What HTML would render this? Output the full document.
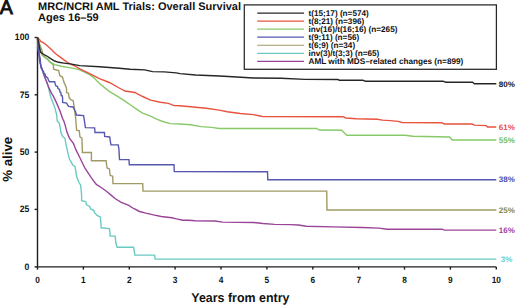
<!DOCTYPE html>
<html><head><meta charset="utf-8"><style>
html,body{margin:0;padding:0;background:#fff;}
body{width:520px;height:305px;overflow:hidden;}
svg{display:block;}
text{font-family:"Liberation Sans",sans-serif;font-weight:bold;fill:#111;text-rendering:geometricPrecision;}
.tk{font-size:8.3px;}
.yt{font-size:8.6px;}
.el{font-size:8px;}
.lg{font-size:8.2px;}
.ti{font-size:11px;}
.xl{font-size:12.9px;}
.yl{font-size:13.3px;}
.A{font-size:19.6px;font-weight:normal;stroke:#111;stroke-width:0.9px;}
</style></head><body>
<svg width="520" height="305" viewBox="0 0 520 305">
<path d="M37.5,37.5 V266.9 H496.3" fill="none" stroke="#1e1e1e" stroke-width="1.4"/>
<line x1="34.6" y1="37.5" x2="37.5" y2="37.5" stroke="#1e1e1e" stroke-width="1.4"/>
<text transform="translate(29.2,40.2) scale(1,1.08)" class="yt" text-anchor="end">100</text>
<line x1="34.6" y1="94.8" x2="37.5" y2="94.8" stroke="#1e1e1e" stroke-width="1.4"/>
<text transform="translate(29.2,97.5) scale(1,1.08)" class="yt" text-anchor="end">75</text>
<line x1="34.6" y1="152.1" x2="37.5" y2="152.1" stroke="#1e1e1e" stroke-width="1.4"/>
<text transform="translate(29.2,154.8) scale(1,1.08)" class="yt" text-anchor="end">50</text>
<line x1="34.6" y1="209.4" x2="37.5" y2="209.4" stroke="#1e1e1e" stroke-width="1.4"/>
<text transform="translate(29.2,212.1) scale(1,1.08)" class="yt" text-anchor="end">25</text>
<line x1="34.6" y1="266.9" x2="37.5" y2="266.9" stroke="#1e1e1e" stroke-width="1.4"/>
<text transform="translate(29.2,269.6) scale(1,1.08)" class="yt" text-anchor="end">0</text>
<line x1="37.5" y1="266.9" x2="37.5" y2="269.6" stroke="#1e1e1e" stroke-width="1.4"/>
<text transform="translate(37.5,283) scale(1,1.1)" class="tk" text-anchor="middle">0</text>
<line x1="83.4" y1="266.9" x2="83.4" y2="269.6" stroke="#1e1e1e" stroke-width="1.4"/>
<text transform="translate(83.4,283) scale(1,1.1)" class="tk" text-anchor="middle">1</text>
<line x1="129.3" y1="266.9" x2="129.3" y2="269.6" stroke="#1e1e1e" stroke-width="1.4"/>
<text transform="translate(129.3,283) scale(1,1.1)" class="tk" text-anchor="middle">2</text>
<line x1="175.1" y1="266.9" x2="175.1" y2="269.6" stroke="#1e1e1e" stroke-width="1.4"/>
<text transform="translate(175.1,283) scale(1,1.1)" class="tk" text-anchor="middle">3</text>
<line x1="221.0" y1="266.9" x2="221.0" y2="269.6" stroke="#1e1e1e" stroke-width="1.4"/>
<text transform="translate(221.0,283) scale(1,1.1)" class="tk" text-anchor="middle">4</text>
<line x1="266.9" y1="266.9" x2="266.9" y2="269.6" stroke="#1e1e1e" stroke-width="1.4"/>
<text transform="translate(266.9,283) scale(1,1.1)" class="tk" text-anchor="middle">5</text>
<line x1="312.8" y1="266.9" x2="312.8" y2="269.6" stroke="#1e1e1e" stroke-width="1.4"/>
<text transform="translate(312.8,283) scale(1,1.1)" class="tk" text-anchor="middle">6</text>
<line x1="358.7" y1="266.9" x2="358.7" y2="269.6" stroke="#1e1e1e" stroke-width="1.4"/>
<text transform="translate(358.7,283) scale(1,1.1)" class="tk" text-anchor="middle">7</text>
<line x1="404.5" y1="266.9" x2="404.5" y2="269.6" stroke="#1e1e1e" stroke-width="1.4"/>
<text transform="translate(404.5,283) scale(1,1.1)" class="tk" text-anchor="middle">8</text>
<line x1="450.4" y1="266.9" x2="450.4" y2="269.6" stroke="#1e1e1e" stroke-width="1.4"/>
<text transform="translate(450.4,283) scale(1,1.1)" class="tk" text-anchor="middle">9</text>
<line x1="496.3" y1="266.9" x2="496.3" y2="269.6" stroke="#1e1e1e" stroke-width="1.4"/>
<text transform="translate(496.3,283) scale(1,1.1)" class="tk" text-anchor="middle">10</text>
<polyline points="37.5,37.5 38.3,48.0 39.0,56.0 39.8,62.0 41.6,67.9 44.2,75.7 46.8,82.3 48.6,88.0 49.4,91.5 50.1,95.0 52.0,100.2 54.0,105.5 55.3,109.4 56.6,114.7 57.3,121.2 59.3,123.2 59.9,126.5 60.5,129.0 60.9,132.9 62.9,136.8 64.8,138.1 66.1,144.7 67.5,151.2 69.4,159.1 71.4,162.4 72.7,165.0 75.0,166.4 76.6,176.2 79.1,182.8 80.7,185.2 81.6,195.0 81.6,200.7 85.7,201.6 86.5,204.8 89.8,206.5 90.6,208.9 93.9,210.6 94.7,213.0 97.1,215.5 100.4,217.1 101.2,227.8 109.4,228.6 110.2,235.2 110.2,236.1 115.2,236.1 115.9,243.3 117.2,247.3 133.6,247.3 134.9,255.1 154.5,255.1 155.2,259.1 496.3,259.1" fill="none" stroke="#6acac2" stroke-width="1.4" stroke-linejoin="miter"/>
<polyline points="37.5,37.5 38.3,48.0 39.0,56.0 39.8,62.0 41.6,67.9 44.2,75.7 46.8,82.3 49.4,88.9 52.0,94.1 52.7,95.0 56.0,101.6 59.9,110.7 62.6,118.5 63.9,121.2 65.2,125.4 66.8,131.6 69.4,138.1 73.4,143.4 76.0,149.9 79.9,157.8 84.8,168.0 91.4,177.9 96.3,184.4 101.2,187.5 106.1,191.0 111.1,195.1 115.0,198.5 121.2,202.3 128.8,205.4 133.5,208.5 139.6,211.5 145.8,213.1 153.5,214.9 161.2,216.5 171.9,217.7 176.5,218.9 182.7,220.3 188.8,220.3 195.0,220.8 215.0,221.0 222.7,222.1 253.5,222.5 263.0,223.5 274.6,224.4 290.0,224.6 298.5,225.0 306.2,226.2 333.1,226.9 361.9,227.5 379.2,228.1 386.7,229.2 441.9,229.2 444.6,230.1 496.3,230.1" fill="none" stroke="#9a4498" stroke-width="1.4" stroke-linejoin="miter"/>
<polyline points="37.5,37.5 39.5,44.0 41.6,49.4 43.0,54.0 45.0,57.0 48.1,59.9 49.4,61.6 50.7,62.6 53.4,64.8 53.6,69.2 58.6,70.5 59.9,75.7 62.5,77.0 63.2,79.7 64.5,83.6 65.5,85.5 66.5,88.2 66.6,92.6 68.5,93.3 69.2,97.9 71.1,99.8 73.1,100.5 73.8,104.4 74.4,108.4 75.1,113.6 75.7,118.9 76.2,125.0 76.6,130.2 79.3,130.9 79.9,136.8 81.9,138.1 82.4,152.5 91.4,152.5 91.4,160.7 106.1,160.7 107.0,168.0 109.4,168.9 110.2,175.4 112.7,176.2 113.0,183.6 142.7,183.6 143.0,191.1 326.7,191.1 327.0,210.0 496.3,210.0" fill="none" stroke="#a09a66" stroke-width="1.4" stroke-linejoin="miter"/>
<polyline points="37.5,37.5 38.0,45.0 38.6,50.7 39.3,55.0 40.2,58.5 40.6,64.0 41.0,68.0 42.0,68.3 42.5,70.5 43.5,71.3 44.0,73.5 45.0,74.0 46.0,77.0 47.5,77.5 48.5,80.0 49.5,81.8 54.7,81.8 55.2,84.0 56.0,86.0 57.5,86.5 58.0,88.5 59.5,89.5 60.0,92.0 60.8,92.5 61.2,95.4 62.2,95.8 62.6,98.0 62.6,102.5 66.6,103.1 68.5,106.4 73.1,107.0 74.4,109.7 75.7,112.3 76.4,115.0 83.6,115.6 84.3,120.2 84.9,124.1 85.4,127.6 94.6,127.9 95.0,132.5 104.4,132.5 104.7,136.4 109.7,137.0 110.3,141.0 111.0,144.9 118.2,144.9 118.9,148.9 119.5,159.6 129.0,159.6 129.3,164.8 174.0,164.8 174.3,171.6 267.5,171.7 267.8,179.7 496.3,179.7" fill="none" stroke="#5658b0" stroke-width="1.4" stroke-linejoin="miter"/>
<polyline points="37.5,37.5 39.0,42.0 40.2,48.1 41.6,54.7 42.9,56.0 45.5,58.0 48.1,59.3 49.4,61.2 52.0,63.2 54.7,64.7 61.2,66.2 69.1,67.6 75.0,68.6 79.8,69.8 89.7,74.7 93.6,77.6 99.5,83.5 109.3,91.4 119.2,97.3 125.0,101.2 130.9,105.3 136.8,109.3 142.7,113.2 150.6,116.2 156.5,119.1 164.3,122.0 170.2,123.6 180.0,124.0 190.5,124.8 201.0,126.6 211.5,127.4 219.3,128.5 316.6,128.5 319.3,130.0 341.8,130.3 344.4,133.0 347.0,135.2 405.0,135.3 412.9,136.3 449.6,137.0 452.2,140.0 496.3,140.0" fill="none" stroke="#88c96a" stroke-width="1.4" stroke-linejoin="miter"/>
<polyline points="37.5,37.5 39.6,39.6 40.9,41.6 42.9,42.4 45.5,44.2 48.1,46.6 51.4,49.6 54.0,52.3 56.0,54.0 59.9,56.9 63.9,59.9 67.8,62.5 71.7,64.5 75.0,66.0 79.8,68.8 89.7,73.7 99.5,78.6 109.3,82.5 119.2,88.0 125.0,91.0 134.8,92.5 142.7,96.5 150.6,100.2 160.4,102.2 168.3,103.4 174.2,105.6 180.0,105.8 193.1,107.0 206.2,108.3 219.3,110.1 227.2,111.7 240.3,113.5 253.4,114.6 260.2,116.0 262.9,116.6 343.1,116.7 345.7,118.0 356.2,118.8 377.2,119.3 382.5,120.1 390.3,120.6 398.2,121.4 402.1,122.5 441.7,122.7 444.3,124.0 472.0,124.0 474.4,125.1 486.2,125.6 487.5,127.0 496.3,127.0" fill="none" stroke="#e8533f" stroke-width="1.4" stroke-linejoin="miter"/>
<polyline points="37.5,37.5 38.6,42.0 39.6,48.0 40.4,52.0 42.9,54.0 46.8,56.0 50.7,58.6 54.7,61.0 58.6,62.3 63.9,63.1 70.0,63.9 79.8,65.6 99.5,66.8 119.2,68.2 130.0,69.2 144.7,69.9 152.5,71.6 164.3,71.9 176.2,72.9 180.0,73.6 195.7,75.0 219.3,76.0 232.5,76.8 253.4,78.0 281.2,78.3 304.8,79.4 337.9,79.5 339.2,80.2 362.8,80.2 365.4,81.2 443.0,81.2 445.7,82.2 472.5,82.2 474.5,83.8 496.3,83.8" fill="none" stroke="#262626" stroke-width="1.4" stroke-linejoin="miter"/>
<text x="498.8" y="86.7" class="el" style="fill:#161616">80%</text>
<text x="498.8" y="129.9" class="el" style="fill:#e8503e">61%</text>
<text x="498.8" y="143.2" class="el" style="fill:#74c05a">55%</text>
<text x="498.8" y="182.3" class="el" style="fill:#4d50a8">38%</text>
<text x="498.8" y="212.7" class="el" style="fill:#8a8748">25%</text>
<text x="498.8" y="233.0" class="el" style="fill:#a0459c">16%</text>
<text x="500.8" y="262.0" class="el" style="fill:#6ccccc">3%</text>
<rect x="244.3" y="4.9" width="252.1" height="64.4" fill="#fff" stroke="#262626" stroke-width="1.25"/>
<line x1="257.2" y1="13.05" x2="304" y2="13.05" stroke="#262626" stroke-width="1.2"/>
<text x="308.5" y="15.95" class="lg">t(15;17) (n=574)</text>
<line x1="257.2" y1="21.10" x2="304" y2="21.10" stroke="#e8533f" stroke-width="1.2"/>
<text x="308.5" y="24.00" class="lg">t(8;21) (n=396)</text>
<line x1="257.2" y1="29.15" x2="304" y2="29.15" stroke="#88c96a" stroke-width="1.2"/>
<text x="308.5" y="32.05" class="lg">inv(16)/t(16;16) (n=265)</text>
<line x1="257.2" y1="37.20" x2="304" y2="37.20" stroke="#5658b0" stroke-width="1.2"/>
<text x="308.5" y="40.10" class="lg">t(9;11) (n=56)</text>
<line x1="257.2" y1="45.25" x2="304" y2="45.25" stroke="#a09a66" stroke-width="1.2"/>
<text x="308.5" y="48.15" class="lg">t(6;9) (n=34)</text>
<line x1="257.2" y1="53.30" x2="304" y2="53.30" stroke="#6acac2" stroke-width="1.2"/>
<text x="308.5" y="56.20" class="lg">inv(3)/t(3;3) (n=65)</text>
<line x1="257.2" y1="61.35" x2="304" y2="61.35" stroke="#9a4498" stroke-width="1.2"/>
<text x="308.5" y="64.25" class="lg">AML with MDS–related changes (n=899)</text>
<text x="-0.3" y="13.6" class="A">A</text>
<text x="38.1" y="9.8" class="ti">MRC/NCRI AML Trials: Overall Survival</text>
<text x="38.1" y="20.9" class="ti">Ages 16–59</text>
<text x="191.3" y="302.1" class="xl" textLength="98.1" lengthAdjust="spacingAndGlyphs">Years from entry</text>
<text transform="translate(12,159.3) rotate(-90)" text-anchor="middle" class="yl">% alive</text>
</svg>
</body></html>
